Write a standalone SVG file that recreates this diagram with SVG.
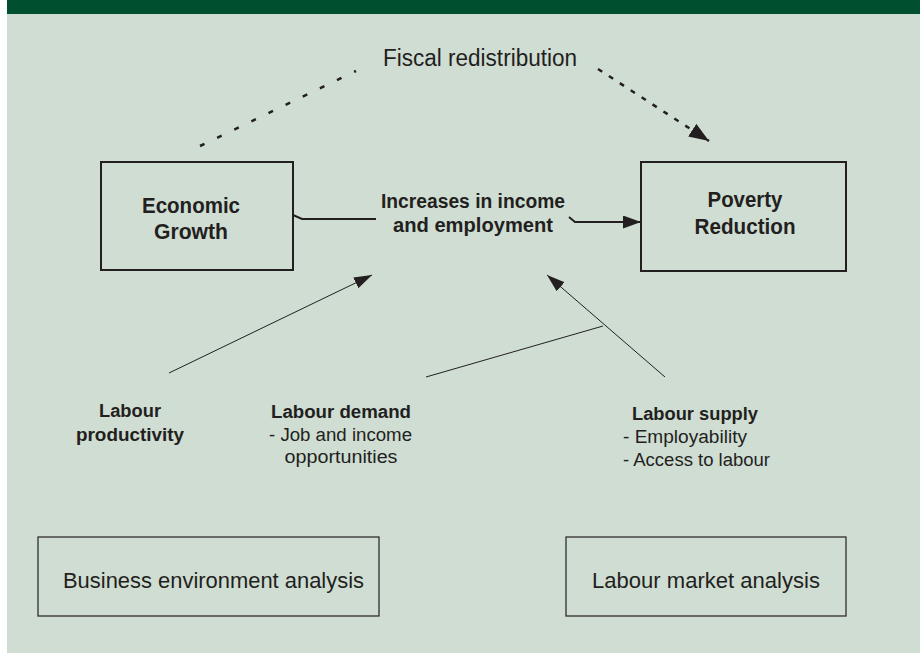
<svg xmlns="http://www.w3.org/2000/svg" width="920" height="653" viewBox="0 0 920 653">
  <style>
    .t { font-family: "Liberation Sans", Arial, sans-serif; fill: #231f20; }
    .b { font-weight: bold; }
    .box { fill: none; stroke: #231f20; stroke-width: 2; }
    .box2 { fill: none; stroke: #231f20; stroke-width: 1.2; }
    .thin { fill: none; stroke: #231f20; stroke-width: 1; }
    .thick { fill: none; stroke: #231f20; stroke-width: 2; }
    .dot { fill: none; stroke: #231f20; stroke-width: 2.5; }
  </style>
  <defs>
    <marker id="ah" viewBox="0 0 18 12" refX="18" refY="6" markerWidth="18" markerHeight="12" markerUnits="userSpaceOnUse" orient="auto">
      <path d="M0,0 L18,6 L0,12 z" fill="#231f20"/>
    </marker>
    <marker id="ahm" viewBox="0 0 18 13" refX="18" refY="6.5" markerWidth="18" markerHeight="13" markerUnits="userSpaceOnUse" orient="auto">
      <path d="M0,0 L18,6.5 L0,13 z" fill="#231f20"/>
    </marker>
    <marker id="ahd" viewBox="0 0 20 15" refX="20" refY="7.5" markerWidth="20" markerHeight="15" markerUnits="userSpaceOnUse" orient="auto">
      <path d="M0,0 L20,7.5 L0,15 z" fill="#231f20"/>
    </marker>
  </defs>

  <rect x="0" y="0" width="920" height="653" fill="#ffffff"/>
  <rect x="7" y="0" width="913" height="653" fill="#cfddd3"/>
  <rect x="7" y="0" width="913" height="14" fill="#005030"/>

  <g id="connectors">
    <line class="dot" x1="200" y1="146" x2="356" y2="71" stroke-dasharray="5 14"/>
    <line class="dot" x1="598" y1="69" x2="709" y2="141" stroke-dasharray="5 8" marker-end="url(#ahd)"/>
    <polyline class="thick" points="293,215 302,219 376,219"/>
    <polyline class="thick" points="569,217 575,222 641,222" marker-end="url(#ahm)"/>
    <line class="thin" x1="169" y1="373" x2="372" y2="275" marker-end="url(#ah)"/>
    <line class="thin" x1="665" y1="377" x2="547" y2="275" marker-end="url(#ah)"/>
    <line class="thin" x1="426" y1="377" x2="603" y2="326"/>
  </g>

  <g id="fiscal">
    <text class="t" x="480" y="66" font-size="23" text-anchor="middle" textLength="194" lengthAdjust="spacingAndGlyphs">Fiscal redistribution</text>
  </g>

  <g id="economic-growth">
    <rect class="box" x="101" y="162" width="192" height="108"/>
    <text class="t b" x="191" y="213" font-size="22.5" text-anchor="middle" textLength="98" lengthAdjust="spacingAndGlyphs">Economic</text>
    <text class="t b" x="191" y="239" font-size="22.5" text-anchor="middle" textLength="74" lengthAdjust="spacingAndGlyphs">Growth</text>
  </g>

  <g id="poverty-reduction">
    <rect class="box" x="641" y="162" width="205" height="109"/>
    <text class="t b" x="745" y="207" font-size="22.5" text-anchor="middle" textLength="75" lengthAdjust="spacingAndGlyphs">Poverty</text>
    <text class="t b" x="745" y="234" font-size="22.5" text-anchor="middle" textLength="101" lengthAdjust="spacingAndGlyphs">Reduction</text>
  </g>

  <g id="increases">
    <text class="t b" x="473" y="208" font-size="19.5" text-anchor="middle" textLength="184" lengthAdjust="spacingAndGlyphs">Increases in income</text>
    <text class="t b" x="473" y="232" font-size="19.5" text-anchor="middle" textLength="160" lengthAdjust="spacingAndGlyphs">and employment</text>
  </g>

  <g id="labour-productivity">
    <text class="t b" x="130" y="417" font-size="18" text-anchor="middle" textLength="62" lengthAdjust="spacingAndGlyphs">Labour</text>
    <text class="t b" x="130" y="441" font-size="18" text-anchor="middle" textLength="108" lengthAdjust="spacingAndGlyphs">productivity</text>
  </g>

  <g id="labour-demand">
    <text class="t b" x="271" y="418" font-size="18" textLength="140" lengthAdjust="spacingAndGlyphs">Labour demand</text>
    <text class="t" x="269" y="441" font-size="18" textLength="143" lengthAdjust="spacingAndGlyphs">- Job and income</text>
    <text class="t" x="341" y="463" font-size="18" text-anchor="middle" textLength="113" lengthAdjust="spacingAndGlyphs">opportunities</text>
  </g>

  <g id="labour-supply">
    <text class="t b" x="632" y="420" font-size="18" textLength="126" lengthAdjust="spacingAndGlyphs">Labour supply</text>
    <text class="t" x="623" y="443" font-size="18" textLength="124" lengthAdjust="spacingAndGlyphs">- Employability</text>
    <text class="t" x="623" y="466" font-size="18" textLength="147" lengthAdjust="spacingAndGlyphs">- Access to labour</text>
  </g>

  <g id="business-env">
    <rect class="box2" x="38" y="537" width="341" height="79"/>
    <text class="t" x="63" y="588" font-size="21.5" textLength="301" lengthAdjust="spacingAndGlyphs">Business environment analysis</text>
  </g>

  <g id="labour-market">
    <rect class="box2" x="566" y="537" width="280" height="79"/>
    <text class="t" x="592" y="588" font-size="21.5" textLength="228" lengthAdjust="spacingAndGlyphs">Labour market analysis</text>
  </g>
</svg>
